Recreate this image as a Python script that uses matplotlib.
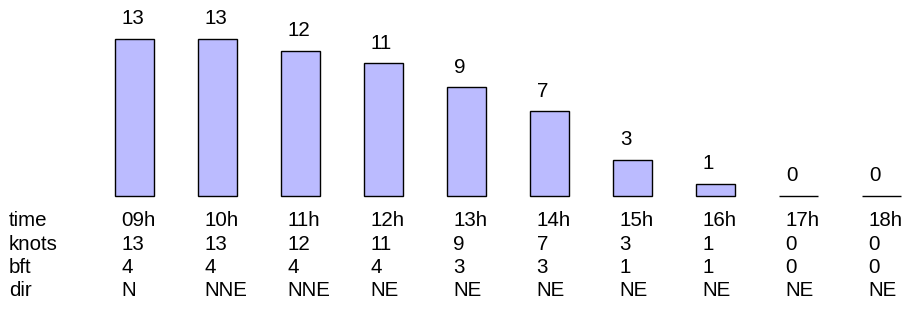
import matplotlib
matplotlib.use("Agg")
import matplotlib.pyplot as plt
from matplotlib.transforms import blended_transform_factory

plt.rcParams['font.family'] = ['Liberation Sans', 'DejaVu Sans']

times = ["09h", "10h", "11h", "12h", "13h", "14h", "15h", "16h", "17h", "18h"]
knots = [13, 13, 12, 11, 9, 7, 3, 1, 0, 0]
bft = [4, 4, 4, 4, 3, 3, 1, 1, 0, 0]
dirs = ["N", "NNE", "NNE", "NE", "NE", "NE", "NE", "NE", "NE", "NE"]
row_labels = ["time", "knots", "bft", "dir"]

W, H, DPI = 911, 324, 100
fig = plt.figure(figsize=(W / DPI, H / DPI), dpi=DPI)
ax = fig.add_axes([0, 0, 1, 1])
ax.set_axis_off()

# layout in pixels: first bar centre, column pitch, bar width, baseline, px per knot
x0, pitch, bar_w = 134.5, 83.0, 39.0
base_px, k = 128.0, 157.0 / 13.0
ax.set_xlim(-x0 / pitch, (W - x0) / pitch)
ax.set_ylim(-base_px / k, (H - base_px) / k)

idx = list(range(len(times)))
width = bar_w / pitch
ax.bar(idx, knots, width=width, color="#bbbbff", edgecolor="black",
       linewidth=1.0, align="center")

fs = 14.8
# value labels above the bars, left-aligned with the table columns
for i, v in zip(idx, knots):
    ax.annotate(str(v), xy=(i - width / 2, v), xytext=(5.0, 10.5),
                textcoords="offset points", ha="left", va="baseline",
                fontsize=fs, color="black")

# table below the bars
trans = blended_transform_factory(ax.transData, fig.transFigure)
rows = [times, knots, bft, dirs]
baselines = [226.5, 250, 273, 296.5]
for label, values, yb in zip(row_labels, rows, baselines):
    yf = (H - yb) / H
    fig.text(9 / W, yf, label, ha="left", va="baseline", fontsize=fs)
    for i, val in zip(idx, values):
        ax.text(i - width / 2 + 6.5 / pitch, yf, str(val), transform=trans,
                ha="left", va="baseline", fontsize=fs)

fig.savefig("out.png", dpi=DPI)
